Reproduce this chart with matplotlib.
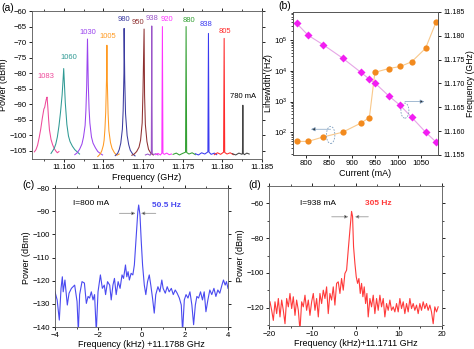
import numpy as np
import matplotlib
matplotlib.use("Agg")
import matplotlib.pyplot as plt
from matplotlib.patches import Ellipse
from matplotlib.ticker import MultipleLocator, FormatStrFormatter

plt.rcParams["font.family"] = ["Liberation Sans", "DejaVu Sans"]
plt.rcParams["mathtext.default"] = "regular"

# ---- (a) spectra, one trace per drive current (GHz, dBm)
f1083 = [11.1563, 11.1565, 11.1567, 11.1569, 11.1571, 11.1573, 11.1575, 11.1576, 11.1577, 11.1578,
         11.1579, 11.1580, 11.1581, 11.1582, 11.1584, 11.1586, 11.1588, 11.1590, 11.1592, 11.1594]
p1083 = [-105.3, -104.6, -103.2, -100.8, -98.0, -94.5, -91.5, -91.0, -89.6, -88.4,
         -87.7, -91.0, -95.0, -98.2, -101.3, -103.0, -104.2, -105.0, -105.6, -105.2]
f1060 = [11.1584, 11.1586, 11.1588, 11.1590, 11.1592, 11.1594, 11.1596, 11.1598, 11.1599, 11.1600,
         11.1601, 11.1602, 11.1604, 11.1606, 11.1608, 11.1611, 11.1614, 11.1617, 11.1620]
p1060 = [-105.8, -105.0, -104.2, -102.8, -100.5, -97.0, -92.5, -87.0, -83.0, -78.5,
         -84.0, -89.5, -96.5, -100.2, -102.0, -103.5, -104.6, -105.3, -106.0]
f1030 = [11.1614, 11.1617, 11.1620, 11.1623, 11.1625, 11.1627, 11.1628, 11.1629, 11.1630, 11.1631,
         11.1632, 11.1633, 11.1635, 11.1637, 11.1640, 11.1643, 11.1646, 11.1649]
p1030 = [-106.2, -105.6, -104.5, -102.8, -100.5, -96.8, -92.0, -84.0, -69.0, -83.5,
         -91.5, -96.0, -100.5, -102.5, -104.0, -105.2, -105.8, -106.3]
f1005 = [11.1643, 11.1646, 11.1648, 11.1650, 11.1651, 11.1652, 11.1653, 11.1654, 11.16545, 11.1655,
         11.1656, 11.1657, 11.1659, 11.1661, 11.1664, 11.1667, 11.1670]
p1005 = [-106.8, -106.0, -105.0, -103.2, -101.5, -98.0, -92.5, -82.0, -71.0, -82.5,
         -93.0, -98.5, -102.3, -104.2, -105.6, -106.4, -106.0]
f980 = [11.1665, 11.1668, 11.1670, 11.1672, 11.1674, 11.1675, 11.1676, 11.16762, 11.1677, 11.1678,
        11.1680, 11.1682, 11.1684, 11.1687, 11.1690]
p980 = [-106.5, -105.8, -104.6, -102.5, -98.0, -92.0, -80.0, -65.6, -82.0, -93.0,
        -100.0, -103.0, -104.8, -106.0, -106.6]
f950 = [11.1686, 11.1689, 11.1692, 11.1695, 11.1697, 11.1699, 11.1700, 11.17014, 11.1702, 11.1703,
        11.1705, 11.1707, 11.1710, 11.1713]
p950 = [-106.4, -106.0, -105.2, -103.8, -101.5, -96.0, -86.0, -65.8, -87.0, -96.5,
        -102.0, -104.5, -105.8, -106.3]
f938 = [11.1703, 11.1706, 11.1709, 11.17105, 11.17111, 11.17117, 11.1713, 11.1716, 11.1719]
p938 = [-106.3, -106.0, -106.4, -105.5, -64.8, -105.6, -106.2, -105.9, -106.3]
f920 = [11.1716, 11.1719, 11.1722, 11.17238, 11.17245, 11.17252, 11.1727, 11.1730, 11.1733, 11.1736]
p920 = [-106.2, -105.8, -106.3, -105.7, -65.0, -105.8, -106.1, -105.7, -106.2, -106.0]
f880 = [11.1738, 11.1742, 11.1746, 11.1750, 11.17537, 11.17544, 11.17551, 11.1758, 11.1762, 11.1766]
p880 = [-106.1, -105.7, -106.3, -105.8, -105.4, -65.0, -105.5, -106.0, -105.6, -106.2]
f838 = [11.1766, 11.1770, 11.1774, 11.1778, 11.17819, 11.17826, 11.17833, 11.1786, 11.1790, 11.1793]
p838 = [-105.9, -106.3, -105.6, -106.0, -105.3, -67.2, -105.4, -106.1, -105.7, -106.2]
f805 = [11.1790, 11.1794, 11.1798, 11.18017, 11.18024, 11.18031, 11.1806, 11.1810, 11.1814]
p805 = [-106.2, -105.6, -106.1, -105.4, -68.8, -105.5, -106.0, -105.6, -106.2]
f780 = [11.1813, 11.1817, 11.1821, 11.1825, 11.18255, 11.18260, 11.18265, 11.1828, 11.1831, 11.1834]
p780 = [-105.9, -106.3, -105.7, -106.1, -105.6, -90.3, -105.8, -106.2, -105.7, -106.0]

labels_a = ["1083", "1060", "1030", "1005", "980", "950", "938", "920", "880", "838", "805", "780 mA"]
colors_a = ["#ee4a9a", "#2f9a94", "#9a44ee", "#ff9a22", "#3c3ca0", "#8e3030",
            "#9a55c8", "#ff33ff", "#33a033", "#3a3af0", "#ff2a2a", "#444444"]
label_x = [11.1577, 11.1606, 11.1630, 11.16551, 11.16762, 11.16935,
           11.1712, 11.1730, 11.17574, 11.17797, 11.18037, 11.18267]
label_y = [-81.2, -75.0, -67.0, -68.3, -62.7, -63.8, -62.4, -62.6, -63.1, -64.3, -66.5, -87.4]

# ---- (b) linewidth and frequency vs current
current = [780, 805, 838, 880, 920, 938, 950, 980, 1005, 1030, 1060, 1083]
linewidth = [50, 50, 70, 100, 200, 300, 9000, 12000, 14000, 20000, 55000, 400000]
freq_b = [11.1826, 11.1801, 11.1781, 11.1753, 11.1723, 11.1709, 11.1701, 11.1674,
          11.1654, 11.1629, 11.1598, 11.1577]

# ---- (c) beat note at 800 mA (kHz offset, dBm)
fc = [-4.0, -3.9, -3.8, -3.72, -3.66, -3.62, -3.54, -3.43, -3.35, -3.24, -3.09, -2.98, -2.92, -2.86,
      -2.75, -2.64, -2.55, -2.47, -2.4, -2.32, -2.24, -2.17, -2.09, -2.01, -1.9, -1.81, -1.72, -1.66,
      -1.57, -1.47, -1.4, -1.32, -1.25, -1.17, -1.08, -0.99, -0.9, -0.83, -0.74, -0.68, -0.62, -0.56,
      -0.48, -0.4, -0.33, -0.25, -0.17, -0.13, -0.07, -0.01, 0.05, 0.13, 0.2, 0.28, 0.36, 0.43, 0.51,
      0.59, 0.66, 0.76, 0.85, 0.94, 1.0, 1.1, 1.19, 1.28, 1.38, 1.47, 1.56, 1.65, 1.75, 1.84, 1.9,
      1.98, 2.06, 2.15, 2.24, 2.33, 2.41, 2.49, 2.56, 2.64, 2.73, 2.82, 2.9, 2.98, 3.07, 3.16, 3.25,
      3.35, 3.44, 3.53, 3.62, 3.72, 3.79, 3.87, 3.93, 4.0]
pc = [-124.8, -128.3, -137.0, -123.3, -118.3, -124.8, -119.7, -130.5, -125.4, -123.3, -121.9, -129.0,
      -142.0, -126.0, -120.4, -121.0, -129.8, -126.8, -127.5, -124.8, -128.3, -126.0, -142.0, -124.8,
      -117.5, -123.3, -121.9, -126.0, -120.4, -121.9, -128.3, -121.9, -119.0, -126.0, -120.4, -123.3,
      -117.5, -119.0, -113.2, -118.3, -116.1, -119.7, -116.8, -117.5, -113.2, -101.7, -90.2, -87.3,
      -91.6, -103.2, -113.2, -121.9, -126.0, -120.4, -117.5, -121.9, -127.5, -134.0, -126.0, -122.6,
      -124.8, -119.7, -123.3, -125.4, -122.6, -124.8, -123.3, -126.0, -124.0, -125.4, -127.5, -130.5,
      -142.0, -128.3, -126.0, -127.5, -124.8, -130.5, -139.0, -130.5, -126.8, -127.5, -124.8, -128.3,
      -124.8, -133.4, -128.3, -124.0, -126.0, -123.3, -126.8, -124.0, -125.4, -121.9, -119.7, -121.9,
      -120.4, -123.3]

# ---- (d) beat note at 938 mA (kHz offset, dBm)
fd = [-19.77, -19.38, -19.0, -18.61, -18.23, -17.84, -17.46, -17.07, -16.69, -16.3, -15.92, -15.53,
      -15.15, -14.76, -14.38, -13.99, -13.61, -13.22, -12.84, -12.45, -12.07, -11.68, -11.3, -10.91,
      -10.53, -10.14, -9.76, -9.37, -8.99, -8.6, -8.22, -7.83, -7.45, -7.06, -6.68, -6.3, -5.91, -5.53,
      -5.14, -4.76, -4.37, -3.99, -3.6, -3.22, -2.83, -2.45, -2.06, -1.68, -1.29, -0.91, -0.68, -0.45,
      -0.14, 0.17, 0.48, 0.79, 1.1, 1.4, 1.71, 2.02, 2.33, 2.64, 2.94, 3.33, 3.71, 4.1, 4.48, 4.87,
      5.25, 5.64, 6.02, 6.41, 6.79, 7.18, 7.56, 7.95, 8.33, 8.72, 9.1, 9.49, 9.87, 10.26, 10.64, 11.03,
      11.41, 11.8, 12.18, 12.57, 12.95, 13.34, 13.72, 14.11, 14.49, 14.88, 15.26, 15.65, 16.03, 16.42,
      16.8, 17.19, 17.57, 17.96, 18.34, 18.73, 19.11]
pd_ = [-116.6, -121.5, -127.3, -116.6, -123.4, -114.7, -125.3, -115.6, -121.5, -129.2, -114.7, -119.5,
       -111.8, -120.5, -113.7, -124.4, -115.6, -121.5, -133.0, -116.6, -119.5, -112.8, -121.5, -115.6,
       -124.4, -116.6, -111.8, -121.5, -114.7, -125.3, -111.8, -117.6, -109.9, -114.7, -108.0, -123.4,
       -111.8, -115.6, -108.0, -118.5, -106.0, -105.1, -111.8, -103.2, -109.9, -100.3, -98.4, -86.8,
       -75.3, -64.6, -67.5, -84.9, -94.5, -102.2, -106.0, -103.2, -111.8, -106.0, -113.7, -108.0,
       -117.6, -111.8, -125.3, -114.7, -119.5, -112.8, -123.4, -114.7, -121.5, -112.8, -119.5, -114.7,
       -125.3, -117.6, -121.5, -115.6, -121.5, -119.5, -122.4, -117.6, -122.4, -114.7, -120.5, -116.6,
       -123.4, -117.6, -122.4, -114.7, -120.5, -117.6, -121.5, -118.5, -123.4, -117.6, -121.5, -116.6,
       -120.5, -117.6, -121.5, -118.5, -122.4, -129.2, -119.5, -122.4, -119.5]

fig = plt.figure(figsize=(4.74, 3.49), dpi=100)
fs_tick = 5.6
fs_lab = 6.5


def style(ax, mirror=True, size=fs_tick):
    ax.tick_params(labelsize=size, length=2.5, width=0.6, pad=1.2, direction="out")
    ax.tick_params(which="minor", length=1.5, width=0.5, direction="out")
    if mirror:
        ax.tick_params(which="both", top=True, right=True)
    for s in ax.spines.values():
        s.set_linewidth(0.6)
        s.set_color("#555555")


def width_marks(ax, x_left, x_in_l, x_in_r, x_right, y):
    # gray line with black arrowheads pointing at the peak
    for a, b in [(x_left, x_in_l), (x_right, x_in_r)]:
        ax.annotate("", xy=(b, y), xytext=(a, y),
                    arrowprops=dict(arrowstyle="-|>", ec="#999999", fc="black",
                                    lw=0.6, mutation_scale=5, shrinkA=0, shrinkB=0))


# (a)
ax1 = fig.add_axes([0.0675, 0.5444, 0.485, 0.424])
traces = [(f1083, p1083), (f1060, p1060), (f1030, p1030), (f1005, p1005), (f980, p980), (f950, p950),
          (f938, p938), (f920, p920), (f880, p880), (f838, p838), (f805, p805), (f780, p780)]
for (fx, py), c in zip(traces, colors_a):
    ax1.plot(fx, py, color=c, lw=0.75)
for t, c, x, y in zip(labels_a, colors_a, label_x, label_y):
    ax1.text(x, y, t, color=c if t != "780 mA" else "black", fontsize=5.5, ha="center", va="center")
ax1.set_xlim(11.156, 11.185)
ax1.set_ylim(-107.6, -60)
ax1.xaxis.set_major_locator(MultipleLocator(0.005))
ax1.xaxis.set_minor_locator(MultipleLocator(0.0025))
ax1.yaxis.set_major_locator(MultipleLocator(5))
ax1.xaxis.set_major_formatter(FormatStrFormatter("%.3f"))
ax1.set_xlabel("Frequency (GHz)", fontsize=fs_lab, labelpad=1)
ax1.set_ylabel("Power (dBm)", fontsize=fs_lab)
ax1.yaxis.set_label_coords(-0.105, 0.5)
style(ax1)
fig.text(0.002, 0.978, "(a)", fontsize=7.5, va="center")

# (b)
ax2 = fig.add_axes([0.618, 0.5559, 0.306, 0.41])
ax2.plot(current, linewidth, "-", color="#f9c88a", lw=0.8, zorder=1)
ax2.plot(current, linewidth, "o", color="#f28a1e", ms=4.5, mec="none", zorder=2)
ax2.set_yscale("log")
ax2.set_ylim(18, 8.5e5)
ax2.set_xlim(772, 1087)
ax2.xaxis.set_major_locator(MultipleLocator(50))
ax2.set_xlabel("Current (mA)", fontsize=fs_lab, labelpad=1)
ax2.set_ylabel("Linewidth (Hz)", fontsize=fs_lab)
ax2.yaxis.set_label_coords(-0.14, 0.5)
style(ax2, mirror=False)
ax2.tick_params(axis="y", which="minor", left=False)
ax2b = ax2.twinx()
ax2b.plot(current, freq_b, "-", color="#e6a6e6", lw=0.8, zorder=1)
ax2b.plot(current, freq_b, "D", color="#f21ef2", ms=4.3, mec="none", zorder=2)
ax2b.set_ylim(11.155, 11.185)
ax2b.yaxis.set_major_locator(MultipleLocator(0.005))
ax2b.yaxis.set_major_formatter(FormatStrFormatter("%.3f"))
ax2b.set_ylabel("Frequency (GHz)", fontsize=6.2)
ax2b.yaxis.set_label_coords(1.19, 0.5)
style(ax2b, mirror=False, size=5.1)
ax2b.add_patch(Ellipse((0.26, 0.14), 0.058, 0.12, transform=ax2.transAxes, fill=False,
                       ls=(0, (2, 1.5)), lw=0.6, ec="#7f9fc0"))
ax2b.add_patch(Ellipse((0.772, 0.31), 0.055, 0.105, transform=ax2.transAxes, fill=False,
                       ls=(0, (2, 1.5)), lw=0.6, ec="#7f9fc0"))
ax2.annotate("", xy=(0.125, 0.18), xytext=(0.26, 0.18), xycoords="axes fraction",
             arrowprops=dict(arrowstyle="-|>", ec="#7f9fc0", fc="#222222", lw=0.5,
                             mutation_scale=6, shrinkA=0, shrinkB=0))
ax2.annotate("", xy=(0.905, 0.373), xytext=(0.772, 0.373), xycoords="axes fraction",
             arrowprops=dict(arrowstyle="-|>", ec="#7f9fc0", fc="#222222", lw=0.5,
                             mutation_scale=6, shrinkA=0, shrinkB=0))
fig.text(0.588, 0.982, "(b)", fontsize=7.5, va="center")

# (c)
ax3 = fig.add_axes([0.116, 0.063, 0.365, 0.398])
ax3.plot(fc, pc, color="#4a4af0", lw=0.8)
ax3.set_xlim(-4, 4)
ax3.set_ylim(-140, -80)
ax3.xaxis.set_major_locator(MultipleLocator(2))
ax3.xaxis.set_minor_locator(MultipleLocator(1))
ax3.yaxis.set_major_locator(MultipleLocator(10))
ax3.set_xlabel("Frequency (kHz) +11.1788 GHz", fontsize=fs_lab, labelpad=0.5)
ax3.set_ylabel("Power (dBm)", fontsize=fs_lab, labelpad=1)
style(ax3)
ax3.text(-3.17, -86.5, "I=800 mA", fontsize=6.0, va="center")
ax3.text(0.49, -87.3, "50.5 Hz", fontsize=6.0, va="center", color="#4a4af0", fontweight="bold")
width_marks(ax3, -1.02, -0.28, -0.02, 0.66, -90.9)
fig.text(0.048, 0.47, "(c)", fontsize=7.5, va="center")

# (d)
ax4 = fig.add_axes([0.5675, 0.066, 0.365, 0.401])
ax4.plot(fd, pd_, color="#ff3a3a", lw=0.8)
ax4.set_xlim(-20, 20)
ax4.set_ylim(-130.5, -50)
ax4.xaxis.set_major_locator(MultipleLocator(10))
ax4.xaxis.set_minor_locator(MultipleLocator(5))
ax4.yaxis.set_major_locator(MultipleLocator(20))
ax4.yaxis.set_minor_locator(MultipleLocator(10))
ax4.set_xlabel("Frequency (kHz)+11.1711 GHz", fontsize=fs_lab, labelpad=0.5)
ax4.set_ylabel("Power (dBm)", fontsize=fs_lab, labelpad=1)
style(ax4)
ax4.text(-12.8, -60, "I=938 mA", fontsize=6.0, va="center")
ax4.text(2.2, -60, "305 Hz", fontsize=6.0, va="center", color="#ff3a3a", fontweight="bold")
width_marks(ax4, -5.5, -1.66, -0.11, 2.96, -67.7)
fig.text(0.525, 0.47, "(d)", fontsize=7.5, va="center")

fig.savefig("out.png", dpi=100)
